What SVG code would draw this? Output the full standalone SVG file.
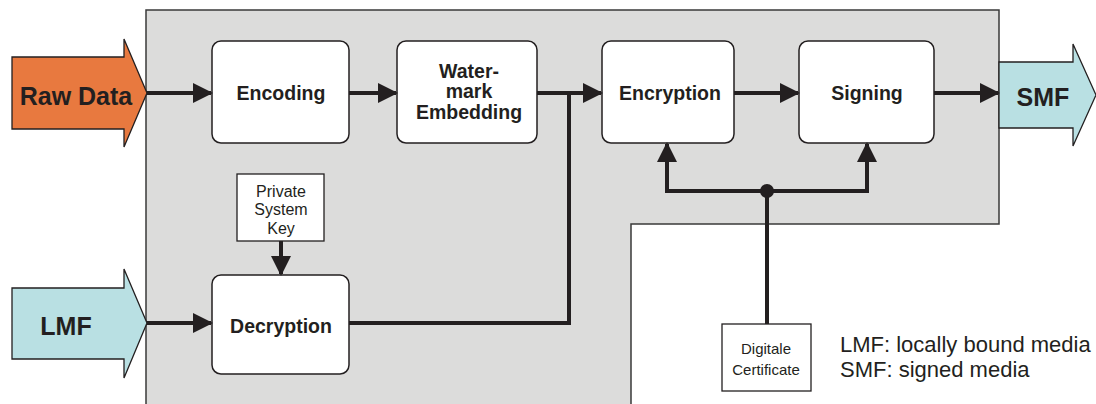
<svg xmlns="http://www.w3.org/2000/svg" width="1096" height="404" viewBox="0 0 1096 404">
<defs>
<style>
.bg{fill:#dcdcdb;stroke:#3a3a3a;stroke-width:1.5}
.box{fill:#ffffff;stroke:#231f20;stroke-width:1.5}
.sbox{fill:#ffffff;stroke:#231f20;stroke-width:1.3}
.line{fill:none;stroke:#231f20;stroke-width:4}
.big{font-family:"Liberation Sans",Arial,sans-serif;font-weight:bold;font-size:25px;fill:#231f20;text-anchor:middle}
.lbl{font-family:"Liberation Sans",Arial,sans-serif;font-weight:bold;font-size:19.5px;fill:#231f20;text-anchor:middle}
.sm{font-family:"Liberation Sans",Arial,sans-serif;font-size:16px;fill:#231f20;text-anchor:middle}
.xs{font-family:"Liberation Sans",Arial,sans-serif;font-size:15px;fill:#231f20;text-anchor:middle}
.leg{font-family:"Liberation Sans",Arial,sans-serif;font-size:22px;fill:#231f20}
.in{stroke:#231f20;stroke-width:1.3}
</style>
<marker id="ah" markerWidth="5" markerHeight="5" refX="4.5" refY="2.5" orient="auto" markerUnits="strokeWidth" viewBox="0 0 5 5">
<path d="M0,0 L5,2.5 L0,5 Z" fill="#231f20"/>
</marker>
</defs>

<polygon class="bg" points="146,10 999,10 999,224 631,224 631,406 146,406"/>

<g id="rawdata">
<polygon class="in" fill="#e8793f" points="12,57 124,57 124,39 147,93 124,147 124,129 12,129"/>
<text class="big" x="76" y="105">Raw Data</text>
</g>

<g id="lmf">
<polygon class="in" fill="#b9e0e3" points="12,288 124,288 124,269 147,323 124,378 124,359 12,359"/>
<text class="big" x="66" y="335">LMF</text>
</g>

<g id="smf">
<polygon class="in" fill="#b9e0e3" points="999,62 1073,62 1073,44 1096,95 1073,146 1073,128 999,128"/>
<text class="big" x="1043" y="106">SMF</text>
</g>

<g id="encoding">
<rect class="box" x="212" y="41" width="137" height="102" rx="9"/>
<text class="lbl" x="281" y="100">Encoding</text>
</g>

<g id="watermark">
<rect class="box" x="397" y="41" width="140" height="102" rx="9"/>
<text class="lbl" x="469" y="78">Water-</text>
<text class="lbl" x="469" y="98">mark</text>
<text class="lbl" x="469" y="119">Embedding</text>
</g>

<g id="encryption">
<rect class="box" x="602" y="41" width="132" height="102" rx="9"/>
<text class="lbl" x="670" y="100">Encryption</text>
</g>

<g id="signing">
<rect class="box" x="799" y="41" width="135" height="102" rx="9"/>
<text class="lbl" x="867" y="100">Signing</text>
</g>

<g id="privatekey">
<rect class="sbox" x="237" y="174" width="87" height="67"/>
<text class="sm" x="281" y="197">Private</text>
<text class="sm" x="281" y="215">System</text>
<text class="sm" x="281" y="234">Key</text>
</g>

<g id="decryption">
<rect class="box" x="212" y="275" width="137" height="99" rx="9"/>
<text class="lbl" x="281" y="333">Decryption</text>
</g>

<g id="certificate">
<rect class="sbox" x="722" y="324" width="89" height="67"/>
<text class="xs" x="766" y="354">Digitale</text>
<text class="xs" x="766" y="375">Certificate</text>
</g>

<g id="connectors">
<line class="line" x1="147" y1="93" x2="211" y2="93" marker-end="url(#ah)"/>
<line class="line" x1="349" y1="93" x2="396" y2="93" marker-end="url(#ah)"/>
<line class="line" x1="537" y1="93" x2="601" y2="93" marker-end="url(#ah)"/>
<line class="line" x1="734" y1="93" x2="798" y2="93" marker-end="url(#ah)"/>
<line class="line" x1="934" y1="93" x2="998" y2="93" marker-end="url(#ah)"/>
<line class="line" x1="147" y1="323" x2="211" y2="323" marker-end="url(#ah)"/>
<polyline class="line" points="349,323 569,323 569,93"/>
<line class="line" x1="281" y1="241" x2="281" y2="274" marker-end="url(#ah)"/>
<polyline class="line" points="667,191 667,144" marker-end="url(#ah)"/>
<polyline class="line" points="867,191 867,144" marker-end="url(#ah)"/>
<line class="line" x1="665" y1="191" x2="869" y2="191"/>
<line class="line" x1="767" y1="191" x2="767" y2="324"/>
<circle cx="767" cy="191" r="7" fill="#231f20"/>
</g>

<g id="legend">
<text class="leg" x="840" y="352">LMF: locally bound media</text>
<text class="leg" x="840" y="377">SMF: signed media</text>
</g>
</svg>
